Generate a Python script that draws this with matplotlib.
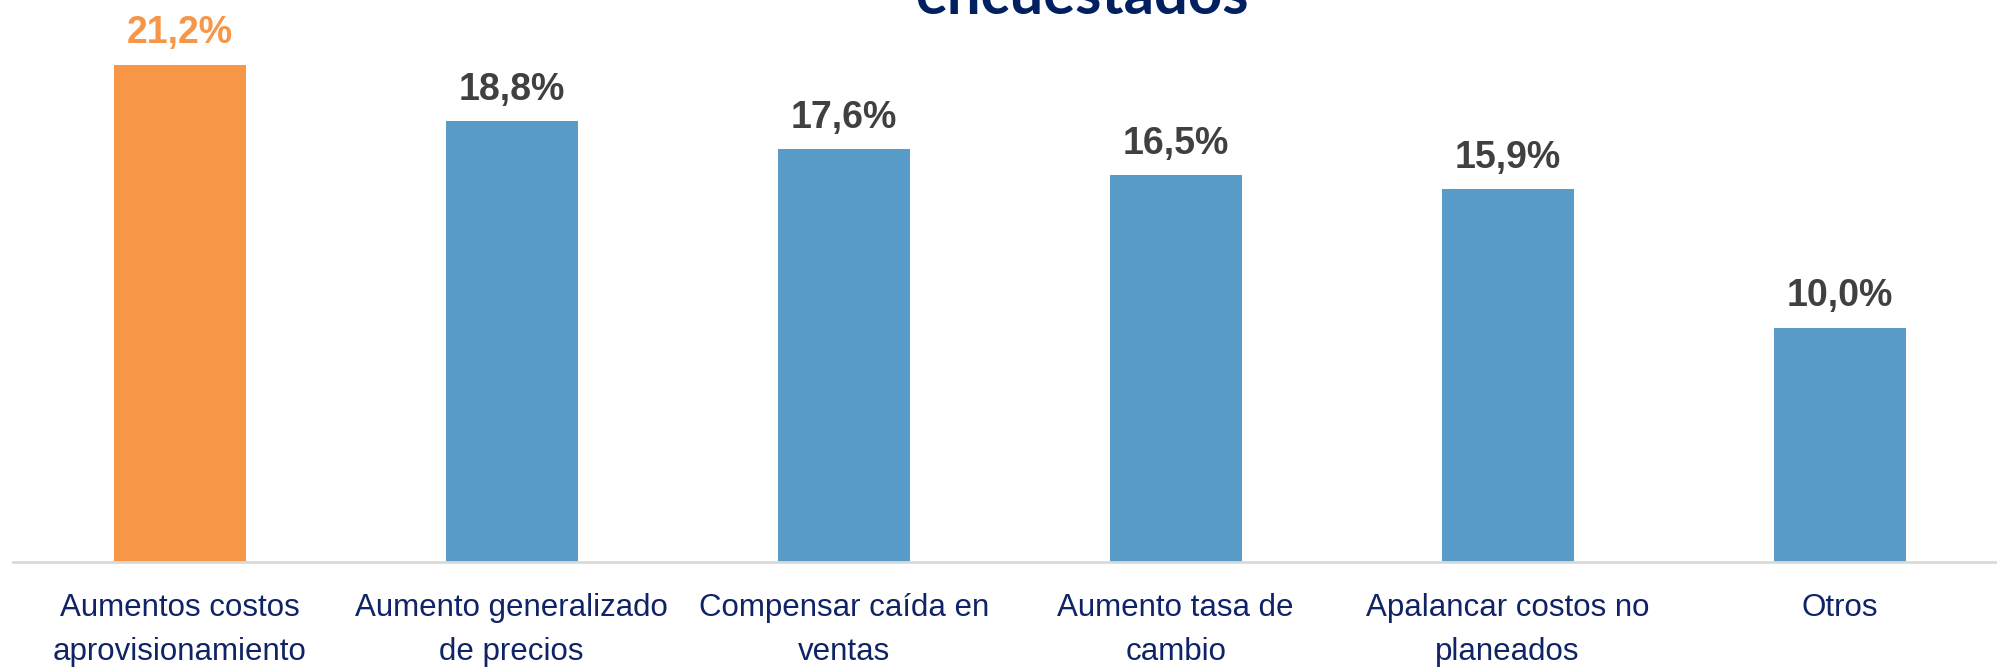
import matplotlib
matplotlib.use("Agg")
import matplotlib.pyplot as plt
from matplotlib import font_manager

categories = ["Aumentos costos\naprovisionamiento", "Aumento generalizado\nde precios",
              "Compensar caída en\nventas", "Aumento tasa de\ncambio",
              "Apalancar costos no\nplaneados", "Otros"]
values = [21.2, 18.8, 17.6, 16.5, 15.9, 10.0]
labels = ["21,2%", "18,8%", "17,6%", "16,5%", "15,9%", "10,0%"]
colors = ["#F79646", "#589BC8", "#589BC8", "#589BC8", "#589BC8", "#589BC8"]
label_colors = ["#F79646", "#404040", "#404040", "#404040", "#404040", "#404040"]
title = "encuestados"

names = {f.name for f in font_manager.fontManager.ttflist}
narrow = "Liberation Sans Narrow" if "Liberation Sans Narrow" in names else "Liberation Sans"

W, H = 1997, 670
fig = plt.figure(figsize=(W / 100, H / 100), dpi=100)
left = 13 / W
bottom = (H - 562) / H
ax = fig.add_axes([left, bottom, 1 - left, 1 - bottom])
x = list(range(len(values)))
ax.bar(x, values, width=0.397, color=colors, zorder=2)
ax.set_xlim(-0.502, 5.474)
ax.set_ylim(0, 562 / 23.45)
for s in ["top", "right", "left"]:
    ax.spines[s].set_visible(False)
ax.spines["bottom"].set_color("#D9D9D9")
ax.spines["bottom"].set_linewidth(2)
ax.set_yticks([])
ax.set_xticks(x)
ax.set_xticklabels(categories, fontfamily=narrow, fontsize=22.5, color="#0F2366",
                   linespacing=1.62)
ax.tick_params(axis="x", length=0, pad=22)
for xi, v, lab, c in zip(x, values, labels, label_colors):
    ax.annotate(lab, (xi, v), xytext=(0, 15.5), textcoords="offset points",
                ha="center", va="baseline", fontsize=27, fontweight="bold",
                fontfamily=narrow, color=c)

fig.text(1082 / W, 1 - 14 / H, title, ha="center", va="baseline",
         fontsize=43, fontweight="bold", fontfamily="Lato", color="#002060")
fig.savefig("out.png", dpi=100)
